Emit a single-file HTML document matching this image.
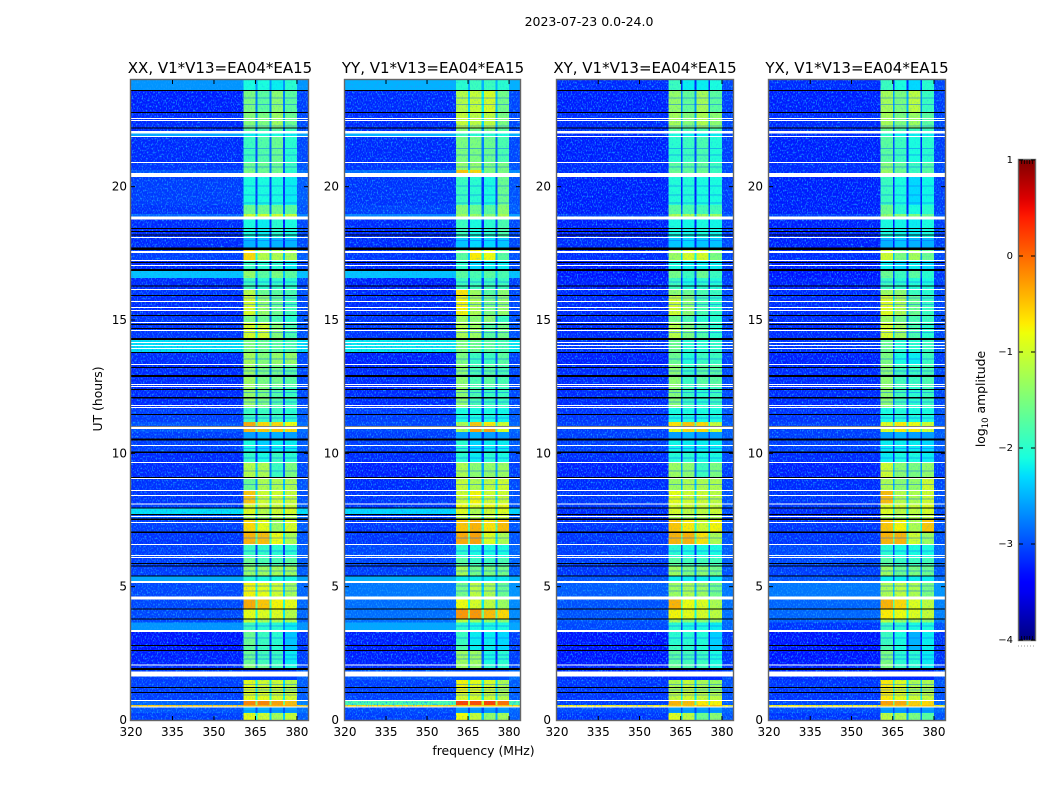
<!DOCTYPE html>
<html lang="en">
<head>
<meta charset="utf-8">
<title>2023-07-23 0.0-24.0</title>
<style>
  html, body { margin: 0; padding: 0; background: #fff; }
  svg { display: block; font-family: "DejaVu Sans", "Liberation Sans", sans-serif; fill: #000; }
  .tick { font-size: 12px; }
  .cbtick { font-size: 10px; }
  .fig-title { font-size: 12.5px; }
  .panel-title { font-size: 15px; }
  .axis-label { font-size: 12.4px; }
</style>
</head>
<body>
<svg id="chart" xmlns="http://www.w3.org/2000/svg" width="1050" height="800" viewBox="0 0 1050 800">
  <defs>
    <filter id="speckle" x="0" y="0" width="100%" height="100%" color-interpolation-filters="sRGB">
      <feTurbulence type="fractalNoise" baseFrequency="0.8 0.5" numOctaves="1" seed="7"/>
      <feColorMatrix values="0 0 0 0 .1  0 0 0 0 .62  0 0 0 0 1  3.2 0 0 0 -1.55"/>
    </filter>
    <linearGradient id="jet-gradient" x1="0" y1="1" x2="0" y2="0"></linearGradient>
  </defs>
  <text x="589" y="26" text-anchor="middle" class="fig-title">2023-07-23 0.0-24.0</text>
  <text x="220" y="73" text-anchor="middle" class="panel-title">XX, V1*V13=EA04*EA15</text>
  <text x="433" y="73" text-anchor="middle" class="panel-title">YY, V1*V13=EA04*EA15</text>
  <text x="645" y="73" text-anchor="middle" class="panel-title">XY, V1*V13=EA04*EA15</text>
  <text x="857" y="73" text-anchor="middle" class="panel-title">YX, V1*V13=EA04*EA15</text>
  <text transform="translate(102 399) rotate(-90)" text-anchor="middle" class="axis-label">UT (hours)</text>
  <text x="483.5" y="755" text-anchor="middle" class="axis-label">frequency (MHz)</text>
  <text transform="translate(985 399) rotate(-90)" text-anchor="middle" class="axis-label">log<tspan font-size="8.5" dy="3">10</tspan><tspan dy="-3"> amplitude</tspan></text>
  <g id="panels"></g>
  <g id="colorbar"></g>
  <line x1="1018" y1="646" x2="1035" y2="646" stroke="#999" stroke-width="1" stroke-dasharray="1 2"></line>
</svg>
<script>
const freqTicks = [320, 335, 350, 365, 380];
const hourTicks = [0, 5, 10, 15, 20];
const colorbarTicks = [1, 0, -1, -2, -3, -4];
const colorMin = -4;
const colorMax = 1;
const freqMin = 320;
const freqMax = 384;
const hourMin = 0;
const hourMax = 24;
/* Column zones in MHz: background, band 1, gap, band 2, gap, band 3, gap, band 4, right edge */
const zoneEdges = [320, 360.6, 365, 365.7, 370, 370.8, 375, 375.7, 380, 384];
/* Row boundaries in UT hours, top to bottom */
const timeEdges = [24.00,23.61,22.80,22.22,22.01,21.90,20.93,20.63,20.36,19.31,18.98,18.77,18.11,17.63,17.25,16.88,16.58,16.14,15.92,15.15,14.89,14.29,13.78,13.33,12.53,11.70,11.18,10.91,10.80,10.50,10.05,9.66,9.06,8.59,8.12,7.95,7.71,7.50,7.05,6.58,6.08,5.78,5.40,5.18,4.61,4.18,3.79,3.65,3.38,2.78,2.59,2.06,1.88,1.50,1.03,0.75,0.56,0.49,0.26,0];
/* Flagged (no data) intervals in UT hours */
const whiteGaps = [[22.58,22.54],[22.50,22.46],[22.09,21.99],[21.90,21.86],[20.93,20.89],[20.51,20.36],[18.88,18.77],[18.11,18.08],[17.59,17.51],[17.25,17.21],[17.06,17.03],[16.16,16.13],[15.71,15.68],[15.49,15.45],[15.38,15.34],[14.93,14.89],[14.63,14.59],[14.18,14.14],[14.06,14.02],[13.95,13.91],[13.35,13.31],[12.60,12.56],[12.53,12.49],[11.81,11.78],[11.74,11.70],[11.01,10.91],[10.31,10.28],[9.68,9.64],[9.08,9.04],[8.63,8.59],[8.44,8.40],[8.12,8.08],[7.65,7.61],[7.43,7.39],[6.60,6.56],[6.19,6.15],[6.11,6.08],[5.21,5.14],[4.63,4.52],[3.38,3.30],[2.08,2.04],[1.82,1.63],[0.75,0.71],[0.51,0.47]];
const blackGaps = [[23.63,23.59],[22.80,22.76],[22.22,22.18],[18.45,18.41],[18.34,18.30],[18.21,18.17],[17.72,17.63],[17.18,17.14],[16.91,16.84],[16.29,16.25],[15.94,15.90],[15.19,15.15],[14.85,14.81],[14.70,14.66],[14.33,14.25],[13.80,13.76],[13.24,13.20],[12.94,12.86],[12.41,12.38],[12.11,12.06],[11.48,11.44],[11.03,10.99],[10.56,10.48],[10.07,10.01],[9.11,9.08],[7.97,7.93],[7.73,7.69],[7.56,7.50],[7.07,7.01],[5.89,5.85],[5.79,5.76],[5.42,5.38],[4.18,4.14],[3.81,3.77],[2.81,2.78],[2.63,2.59],[1.95,1.88],[1.24,1.20],[1.05,1.01]];
/* Hours at which the receiver bands dip (horizontal streaks inside the bands) */
const bandStreakHours = [23.35,23.1,22.3,22.05,21.45,21.2,20.75,20.05,19.7,19.4,18.0,16.45,16.3,15.85,15.6,14.55,13.55,13.1,12.95,12.3,11.95,11.35,10.2,9.85,9.35,8.85,8.3,6.85,6.35,5.6,5.05,4.85,3.55,3.1,2.45,2.3,1.35,1.15,0.95,0.35];
/* log10 amplitude per row: [background, band1, band2, band3, band4] */
const xxLevels = [
[-2.65,-2.1,-2.1,-2.2,-2.0],[-3.25,-1.5,-1.7,-1.4,-1.7],[-3.2,-1.45,-1.5,-1.3,-1.6],[-3.2,-1.7,-1.8,-1.7,-1.9],[-2.55,-2.2,-2.1,-2.1,-2.2],
[-3.2,-1.9,-1.75,-1.6,-2.0],[-3.15,-1.6,-1.6,-1.6,-1.9],[-3.0,-1.5,-1.6,-1.55,-2.0],[-3.1,-2.1,-2.1,-2.1,-2.2],[-3.15,-1.6,-1.6,-1.6,-1.7],
[-2.9,-1.0,-1.0,-1.0,-1.05],[-3.2,-2.1,-2.2,-2.0,-2.1],[-3.2,-2.5,-2.4,-2.5,-2.5],[-3.1,-0.6,-1.15,-1.2,-1.25],[-3.2,-1.9,-2.0,-2.0,-2.2],
[-2.4,-1.35,-1.7,-1.5,-1.7],[-3.2,-1.9,-2.0,-1.95,-2.0],[-3.15,-1.15,-1.6,-1.7,-1.8],[-3.2,-0.95,-1.35,-1.6,-1.85],[-3.15,-1.5,-1.6,-1.8,-2.0],
[-3.15,-0.95,-1.0,-1.45,-1.8],[-2.25,-1.5,-1.6,-1.7,-1.8],[-3.2,-1.25,-1.45,-1.35,-1.35],[-3.2,-1.3,-1.5,-1.55,-1.7],[-3.2,-1.35,-1.5,-1.75,-1.9],
[-3.1,-1.9,-1.9,-1.9,-2.0],[-3.0,-0.35,-0.6,-0.6,-0.8],[-3.0,-0.4,-0.5,-0.5,-0.6],[-3.1,-2.6,-2.5,-2.5,-2.6],[-3.1,-2.1,-2.35,-2.2,-2.2],
[-3.2,-1.95,-2.1,-1.9,-2.0],[-3.2,-1.15,-1.2,-1.9,-1.5],[-3.15,-1.6,-1.2,-1.2,-1.2],[-3.15,-0.5,-1.0,-1.0,-1.05],[-3.1,-0.95,-1.0,-1.05,-1.05],
[-2.25,-0.9,-1.15,-1.0,-0.95],[-3.0,-1.2,-1.3,-1.2,-1.2],[-3.1,-0.6,-0.85,-1.3,-0.95],[-3.15,-0.4,-0.45,-0.8,-1.2],[-3.1,-1.9,-1.95,-2.0,-2.0],
[-3.1,-1.6,-1.8,-1.8,-1.7],[-3.1,-1.35,-1.3,-1.25,-1.3],[-2.55,-2.0,-2.1,-2.1,-2.1],[-3.05,-0.75,-0.85,-1.0,-1.25],[-3.05,-0.35,-0.5,-0.75,-0.85],
[-3.05,-0.85,-0.9,-0.9,-1.15],[-3.05,-1.0,-1.2,-1.2,-1.2],[-2.65,-1.9,-2.0,-2.0,-2.2],[-3.3,-1.6,-1.9,-2.0,-2.4],[-3.3,-1.7,-1.9,-2.0,-2.4],
[-3.25,-1.6,-1.85,-1.9,-2.2],[-3.2,-1.4,-1.6,-1.9,-2.1],[-3.1,-3.1,-3.1,-3.1,-3.1],[-3.1,-0.85,-1.0,-1.0,-1.15],[-3.1,-0.85,-0.85,-0.95,-0.95],
[-2.9,-0.15,-0.15,-0.3,-0.45],[-0.5,-0.4,-0.4,-0.4,-0.4],[-3.0,-2.5,-2.5,-2.6,-2.6],[-3.1,-0.85,-1.0,-1.25,-1.05]];
const yyLevels = [
[-2.5,-2.0,-1.9,-1.9,-2.0],[-3.2,-1.15,-1.05,-0.95,-1.55],[-3.2,-1.05,-1.1,-1.1,-1.5],[-3.2,-1.4,-1.5,-1.5,-1.7],[-2.5,-1.9,-2.0,-2.0,-2.1],
[-3.2,-1.5,-1.5,-1.6,-1.8],[-3.15,-1.35,-1.35,-1.5,-1.5],[-2.85,-0.5,-0.6,-1.5,-1.5],[-3.15,-1.9,-2.0,-2.1,-1.6],[-3.1,-1.45,-1.6,-1.7,-1.4],
[-2.75,-1.25,-1.3,-1.4,-1.2],[-3.2,-1.9,-2.1,-2.0,-1.8],[-3.2,-2.4,-2.3,-2.3,-2.4],[-3.15,-1.7,-0.7,-0.8,-1.7],[-3.2,-2.0,-2.3,-2.2,-2.2],
[-2.4,-1.7,-1.8,-1.7,-1.8],[-3.25,-1.9,-1.9,-1.9,-1.9],[-3.2,-0.65,-1.3,-1.7,-1.4],[-3.2,-0.75,-1.2,-1.5,-1.35],[-3.15,-1.3,-1.4,-1.4,-1.9],
[-3.15,-1.2,-1.3,-1.7,-1.55],[-2.2,-1.5,-1.6,-1.7,-1.8],[-3.25,-1.5,-1.9,-1.9,-1.7],[-3.2,-1.4,-1.8,-1.7,-1.8],[-3.2,-1.4,-1.8,-1.9,-1.9],
[-3.1,-2.1,-2.1,-2.1,-2.15],[-3.05,-1.2,-0.5,-0.7,-1.0],[-3.05,-1.2,-0.3,-0.3,-0.9],[-3.1,-2.6,-2.5,-2.6,-2.6],[-3.1,-2.0,-2.3,-2.2,-2.2],
[-3.2,-2.0,-2.2,-2.0,-2.1],[-3.25,-1.2,-1.4,-1.35,-1.3],[-3.2,-1.05,-1.2,-1.1,-1.0],[-3.15,-1.0,-0.75,-1.0,-1.0],[-3.15,-0.8,-0.9,-0.8,-0.8],
[-2.3,-0.9,-1.2,-1.0,-0.9],[-3.1,-1.1,-1.2,-1.1,-1.0],[-3.15,-0.5,-0.4,-0.65,-0.45],[-3.15,-0.35,-0.3,-0.9,-1.2],[-3.05,-2.0,-2.1,-2.1,-2.1],
[-3.05,-1.7,-1.9,-1.9,-1.8],[-3.1,-1.25,-1.55,-1.5,-1.55],[-2.5,-2.2,-2.2,-2.2,-2.2],[-2.8,-1.55,-1.1,-1.2,-1.6],[-2.85,-0.8,-0.95,-1.1,-1.3],
[-2.85,-0.25,-0.25,-0.45,-0.6],[-2.85,-1.1,-1.3,-1.3,-1.4],[-2.55,-2.0,-2.1,-2.1,-2.1],[-3.25,-1.9,-2.2,-2.2,-2.3],[-3.25,-1.8,-2.2,-2.2,-2.3],
[-3.25,-1.3,-1.3,-2.1,-2.0],[-3.2,-1.3,-1.4,-2.0,-2.0],[-3.0,-3.0,-3.0,-3.0,-3.0],[-3.1,-0.75,-0.85,-0.95,-1.2],[-3.1,-0.95,-0.95,-1.0,-1.15],
[-1.8,0.2,0.15,0.2,-0.05],[-0.6,-0.5,-0.5,-0.5,-0.5],[-3.05,-2.6,-2.6,-2.6,-2.6],[-3.1,-0.8,-1.05,-1.35,-1.25]];
const xyLevels = [
[-3.2,-1.9,-2.2,-2.2,-2.1],[-3.25,-1.35,-1.65,-1.25,-1.7],[-3.2,-1.25,-1.45,-1.2,-1.4],[-3.2,-1.7,-1.8,-1.8,-1.8],[-3.2,-2.1,-2.2,-2.2,-2.2],
[-3.25,-2.0,-1.9,-1.8,-2.05],[-3.2,-1.7,-1.7,-1.65,-1.9],[-3.2,-1.6,-1.65,-1.6,-1.9],[-3.25,-2.05,-2.05,-2.1,-2.1],[-3.25,-1.7,-1.8,-1.85,-1.85],
[-3.1,-1.2,-1.2,-1.3,-1.3],[-3.25,-2.1,-2.15,-2.1,-2.15],[-3.2,-2.4,-2.3,-2.4,-2.4],[-3.2,-1.3,-0.95,-0.95,-1.5],[-3.25,-2.1,-2.2,-2.2,-2.2],
[-3.3,-1.55,-1.9,-1.6,-1.9],[-3.25,-1.9,-2.1,-2.0,-2.05],[-3.2,-1.4,-1.6,-1.8,-1.9],[-3.2,-1.0,-1.4,-1.8,-1.95],[-3.2,-1.55,-1.8,-2.0,-2.0],
[-3.2,-1.15,-1.5,-1.75,-2.0],[-3.15,-1.6,-2.0,-2.0,-1.95],[-3.25,-1.6,-2.05,-1.9,-1.9],[-3.2,-1.4,-1.9,-1.7,-1.7],[-3.2,-1.45,-1.9,-2.0,-1.9],
[-3.15,-2.1,-2.1,-2.1,-2.1],[-3.1,-0.65,-0.5,-0.6,-1.05],[-3.1,-0.8,-0.6,-0.6,-1.0],[-3.1,-2.6,-2.5,-2.6,-2.6],[-3.1,-2.15,-2.2,-2.2,-2.2],
[-3.2,-2.05,-2.0,-2.1,-2.1],[-3.25,-1.3,-1.4,-1.9,-1.5],[-3.2,-1.3,-1.2,-1.2,-1.2],[-3.15,-0.85,-1.0,-1.0,-1.1],[-3.15,-0.95,-1.0,-1.05,-1.05],
[-3.2,-0.95,-1.1,-1.1,-1.0],[-3.2,-1.2,-1.3,-1.2,-1.2],[-3.15,-0.5,-0.7,-1.0,-0.75],[-3.15,-0.4,-0.4,-0.65,-1.2],[-3.1,-2.0,-2.1,-2.1,-2.1],
[-3.1,-1.7,-1.85,-1.85,-1.85],[-3.15,-1.3,-1.5,-1.4,-1.55],[-3.0,-2.2,-2.2,-2.2,-2.2],[-2.95,-1.3,-1.2,-1.3,-1.55],[-3.0,-0.4,-0.8,-0.9,-1.2],
[-3.0,-0.75,-0.85,-0.95,-1.1],[-3.0,-1.2,-1.4,-1.4,-1.4],[-3.05,-2.0,-2.1,-2.1,-2.2],[-3.3,-2.0,-2.0,-2.05,-2.35],[-3.3,-1.9,-2.0,-2.05,-2.35],
[-3.3,-1.7,-1.85,-1.9,-2.1],[-3.25,-1.6,-1.8,-1.9,-2.1],[-3.2,-3.2,-3.2,-3.2,-3.2],[-3.15,-1.2,-1.05,-1.2,-1.3],[-3.15,-1.05,-0.95,-1.05,-1.1],
[-3.1,-0.4,-0.45,-0.7,-0.75],[-0.7,-0.5,-0.5,-0.5,-0.5],[-3.05,-2.6,-2.6,-2.6,-2.6],[-3.15,-0.9,-1.1,-1.6,-1.4]];
const yxLevels = [
[-3.2,-1.9,-2.1,-2.3,-2.0],[-3.25,-1.25,-1.5,-1.1,-1.9],[-3.2,-1.25,-1.5,-1.3,-1.7],[-3.2,-1.6,-1.8,-1.9,-1.9],[-3.2,-2.0,-2.2,-2.2,-2.2],
[-3.25,-1.7,-1.9,-2.1,-2.0],[-3.2,-1.45,-1.65,-1.9,-1.75],[-3.2,-1.3,-1.6,-1.9,-1.7],[-3.25,-1.9,-2.1,-2.3,-2.15],[-3.25,-1.6,-2.0,-2.1,-2.0],
[-3.1,-1.35,-1.4,-1.5,-1.6],[-3.25,-2.1,-2.15,-2.2,-2.1],[-3.25,-2.5,-2.4,-2.5,-2.5],[-3.2,-1.0,-1.5,-1.25,-1.6],[-3.25,-2.2,-2.3,-2.2,-2.3],
[-3.3,-1.6,-1.9,-1.7,-2.0],[-3.25,-1.9,-2.0,-2.05,-2.1],[-3.2,-1.3,-1.4,-1.9,-2.0],[-3.2,-0.9,-1.2,-1.6,-1.9],[-3.2,-1.3,-1.55,-1.8,-1.9],
[-3.2,-0.95,-1.3,-1.8,-2.0],[-3.15,-1.6,-2.0,-2.0,-1.9],[-3.25,-1.5,-2.1,-2.2,-1.9],[-3.2,-1.4,-1.85,-1.9,-1.8],[-3.2,-1.4,-1.85,-2.0,-1.9],
[-3.15,-2.1,-2.05,-2.1,-2.1],[-3.1,-0.9,-0.7,-0.8,-1.0],[-3.1,-0.9,-0.7,-0.7,-1.0],[-3.1,-2.6,-2.5,-2.6,-2.6],[-3.1,-2.2,-2.2,-2.2,-2.3],
[-3.2,-2.2,-2.1,-2.1,-2.2],[-3.25,-1.0,-1.4,-1.5,-1.35],[-3.2,-1.2,-1.4,-1.35,-1.0],[-3.15,-0.45,-1.15,-1.2,-1.0],[-3.15,-0.9,-1.0,-1.05,-0.9],
[-3.2,-0.9,-1.1,-1.1,-0.95],[-3.2,-1.2,-1.3,-1.2,-1.1],[-3.15,-0.5,-0.75,-1.2,-0.5],[-3.15,-0.4,-0.4,-1.0,-1.3],[-3.05,-2.0,-2.1,-2.1,-2.1],
[-3.05,-1.7,-1.9,-1.9,-1.85],[-3.1,-1.3,-1.6,-1.5,-1.6],[-3.0,-2.2,-2.2,-2.2,-2.2],[-2.8,-1.2,-1.1,-1.2,-1.5],[-2.9,-0.4,-0.6,-0.9,-1.1],
[-2.9,-0.7,-0.8,-0.9,-1.05],[-2.95,-1.1,-1.3,-1.3,-1.4],[-3.15,-1.9,-2.0,-2.1,-2.1],[-3.3,-1.9,-2.1,-2.5,-2.2],[-3.3,-1.8,-2.1,-2.5,-2.2],
[-3.3,-1.5,-2.0,-2.0,-2.2],[-3.25,-1.5,-1.9,-2.0,-2.2],[-3.2,-3.2,-3.2,-3.2,-3.2],[-3.15,-0.7,-0.9,-1.2,-1.2],[-3.15,-0.7,-0.85,-1.0,-1.05],
[-3.05,-0.3,-0.35,-0.55,-0.6],[-0.7,-0.5,-0.5,-0.5,-0.5],[-3.05,-2.6,-2.6,-2.6,-2.6],[-3.15,-1.1,-1.2,-1.5,-1.7]];

const NS = 'http://www.w3.org/2000/svg';
const plotTop = 80;
const plotBottom = 720;
const panels = [
  { name: 'xx', levels: xxLevels, left: 131, right: 308, labelRight: 127 },
  { name: 'yy', levels: yyLevels, left: 345, right: 520, labelRight: 339 },
  { name: 'xy', levels: xyLevels, left: 557, right: 733, labelRight: 551 },
  { name: 'yx', levels: yxLevels, left: 769, right: 945, labelRight: 763 }
];

function svgEl(tag, attrs, parent) {
  const el = document.createElementNS(NS, tag);
  for (const k in attrs) el.setAttribute(k, attrs[k]);
  parent.appendChild(el);
  return el;
}
function xScale(panel, freq) {
  return panel.left + (freq - freqMin) / (freqMax - freqMin) * (panel.right - panel.left);
}
function yScale(hour) {
  return plotBottom - (hour - hourMin) / (hourMax - hourMin) * (plotBottom - plotTop);
}
function interp(stops, t) {
  for (let i = 1; i < stops.length; i++) {
    if (t <= stops[i][0]) {
      const a = stops[i - 1], b = stops[i];
      return a[1] + (b[1] - a[1]) * (t - a[0]) / (b[0] - a[0]);
    }
  }
  return stops[stops.length - 1][1];
}
function jet(value) {
  const t = Math.max(0, Math.min(1, (value - colorMin) / (colorMax - colorMin)));
  const r = interp([[0, 0], [0.35, 0], [0.66, 1], [0.89, 1], [1, 0.5]], t);
  const g = interp([[0, 0], [0.125, 0], [0.375, 1], [0.64, 1], [0.91, 0], [1, 0]], t);
  const b = interp([[0, 0.5], [0.11, 1], [0.34, 1], [0.65, 0], [1, 0]], t);
  return 'rgb(' + Math.round(r * 255) + ',' + Math.round(g * 255) + ',' + Math.round(b * 255) + ')';
}
function zoneLevel(row, zone) {
  const bg = row[0];
  if (zone === 0) return bg;
  if (zone === 8) return bg < -2.7 ? bg + 0.15 : bg;
  if (zone % 2 === 1) return row[(zone + 1) / 2];
  const neighbours = (row[zone / 2] + row[zone / 2 + 1]) / 2;
  return Math.max(bg, neighbours - 1.2);
}

const panelRoot = document.getElementById('panels');
panels.forEach(function (panel) {
  const g = svgEl('g', {}, panelRoot);
  
  
  const cells = svgEl('g', { 'shape-rendering': 'crispEdges' }, g);
  
  
  panel.levels.forEach(function (row, r) {
    const y0 = yScale(timeEdges[r]);
    const y1 = yScale(timeEdges[r + 1]);
    for (let z = 0; z < zoneEdges.length - 1; z++) {
      const x0 = xScale(panel, zoneEdges[z]);
      const x1 = xScale(panel, zoneEdges[z + 1]);
      const cell = svgEl('rect', { x: x0, y: y0, width: x1 - x0, height: y1 - y0, fill: jet(zoneLevel(row, z)) }, cells);
      
      
    }
  });
  const streaks = svgEl('g', { 'shape-rendering': 'crispEdges' }, g);
  
  
  bandStreakHours.forEach(function (h) {
    const x0 = xScale(panel, zoneEdges[1]);
    const x1 = xScale(panel, zoneEdges[8]);
    const streak = svgEl('rect', { x: x0, y: yScale(h), width: x1 - x0, height: 1, fill: '#0a5cff', opacity: 0.45 }, streaks);
    
    
  });
  const noiseLeft = svgEl('rect', { x: panel.left, y: plotTop, width: xScale(panel, zoneEdges[1]) - panel.left, height: plotBottom - plotTop, filter: 'url(#speckle)' }, g);
  
  
  const noiseBand = svgEl('rect', { x: xScale(panel, zoneEdges[1]), y: plotTop, width: xScale(panel, zoneEdges[8]) - xScale(panel, zoneEdges[1]), height: plotBottom - plotTop, filter: 'url(#speckle)', opacity: 0.3 }, g);
  
  
  const noiseRight = svgEl('rect', { x: xScale(panel, zoneEdges[8]), y: plotTop, width: panel.right - xScale(panel, zoneEdges[8]), height: plotBottom - plotTop, filter: 'url(#speckle)' }, g);
  
  
  const flags = svgEl('g', { 'shape-rendering': 'crispEdges' }, g);
  
  
  blackGaps.forEach(function (gap) {
    const band = svgEl('rect', { x: panel.left, y: yScale(gap[0]), width: panel.right - panel.left, height: Math.max(1, yScale(gap[1]) - yScale(gap[0])), fill: '#000' }, flags);
    
    
  });
  whiteGaps.forEach(function (gap) {
    const band = svgEl('rect', { x: panel.left, y: yScale(gap[0]), width: panel.right - panel.left, height: Math.max(1, yScale(gap[1]) - yScale(gap[0])), fill: '#fff' }, flags);
    
    
  });
  const spine = svgEl('rect', { x: panel.left - 0.5, y: plotTop - 0.5, width: panel.right - panel.left + 1, height: plotBottom - plotTop + 1, fill: 'none', stroke: '#666', 'stroke-width': 1.4 }, g);
  
  
  freqTicks.forEach(function (f) {
    const x = xScale(panel, f);
    if (f !== freqMin) {
      const t1 = svgEl('line', { x1: x, x2: x, y1: plotBottom, y2: plotBottom - 4, stroke: '#000', 'stroke-width': 1 }, g);
      
      
      const t2 = svgEl('line', { x1: x, x2: x, y1: plotTop, y2: plotTop + 4, stroke: '#000', 'stroke-width': 1 }, g);
      
      
    }
    const label = svgEl('text', { x: x, y: 736, 'text-anchor': 'middle', class: 'tick' }, g);
    
    
    label.textContent = String(f);
  });
  hourTicks.forEach(function (h) {
    const y = yScale(h);
    if (h !== hourMin) {
      const t1 = svgEl('line', { x1: panel.left, x2: panel.left + 4, y1: y, y2: y, stroke: '#000', 'stroke-width': 1 }, g);
      
      
      const t2 = svgEl('line', { x1: panel.right, x2: panel.right - 4, y1: y, y2: y, stroke: '#000', 'stroke-width': 1 }, g);
      
      
    }
    const label = svgEl('text', { x: panel.labelRight, y: y + 4, 'text-anchor': 'end', class: 'tick' }, g);
    
    
    label.textContent = String(h);
  });
});

/* Colorbar */
const barLeft = 1019;
const barRight = 1035;
const barTop = 160;
const barBottom = 640;
function barScale(v) {
  return barBottom - (v - colorMin) / (colorMax - colorMin) * (barBottom - barTop);
}
const gradient = document.getElementById('jet-gradient');
for (let i = 0; i <= 50; i++) {
  const v = colorMin + (colorMax - colorMin) * i / 50;
  svgEl('stop', { offset: (i * 2) + '%', 'stop-color': jet(v) }, gradient);
}
const barRoot = document.getElementById('colorbar');
const barFill = svgEl('rect', { x: barLeft, y: barTop, width: barRight - barLeft, height: barBottom - barTop, fill: 'url(#jet-gradient)' }, barRoot);


const barFrame = svgEl('rect', { x: barLeft - 0.5, y: barTop - 0.5, width: barRight - barLeft + 1, height: barBottom - barTop + 1, fill: 'none', stroke: '#666', 'stroke-width': 1.4 }, barRoot);


colorbarTicks.forEach(function (v) {
  const y = barScale(v);
  const t1 = svgEl('line', { x1: barLeft, x2: barLeft + 4, y1: y, y2: y, stroke: '#000', 'stroke-width': 1 }, barRoot);
  
  
  const t2 = svgEl('line', { x1: barRight, x2: barRight - 4, y1: y, y2: y, stroke: '#000', 'stroke-width': 1 }, barRoot);
  
  
  const label = svgEl('text', { x: 1013, y: y + 3, 'text-anchor': 'end', class: 'cbtick' }, barRoot);
  
  
  label.textContent = String(v).replace('-', '\u2212');
});
for (let i = 1; i < 6; i++) {
  const x = barLeft + (barRight - barLeft) * i / 6;
  const tb = svgEl('line', { x1: x, x2: x, y1: barTop, y2: barTop + 4, stroke: '#000', 'stroke-width': 0.8 }, barRoot);
  
  
  const bb = svgEl('line', { x1: x, x2: x, y1: barBottom, y2: barBottom - 4, stroke: '#000', 'stroke-width': 0.8 }, barRoot);
  
  
}
</script>
</body>
</html>
